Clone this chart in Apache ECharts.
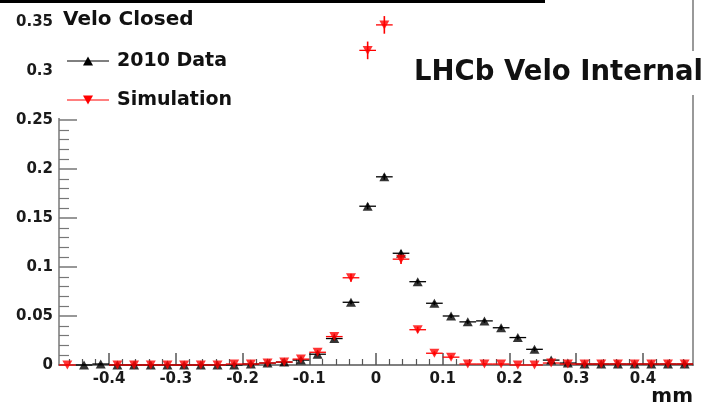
<!DOCTYPE html>
<html>
<head>
<meta charset="utf-8">
<script src="https://cdn.jsdelivr.net/npm/echarts@6/dist/echarts.min.js"></script>
<style>
html,body{margin:0;padding:0;background:#fff;}
#c{width:710px;height:404px;}
</style>
</head>
<body>
<div id="c"></div>
<script>
// ---- data ----
const binCenters = [-0.4625, -0.4375, -0.4125, -0.3875, -0.3625, -0.3375, -0.3125, -0.2875, -0.2625, -0.2375,
  -0.2125, -0.1875, -0.1625, -0.1375, -0.1125, -0.0875, -0.0625, -0.0375, -0.0125, 0.0125,
  0.0375, 0.0625, 0.0875, 0.1125, 0.1375, 0.1625, 0.1875, 0.2125, 0.2375, 0.2625,
  0.2875, 0.3125, 0.3375, 0.3625, 0.3875, 0.4125, 0.4375, 0.4625];
const binHalfWidth = 0.0125;
const data2010 = [null, 0, 0.001, 0, 0, 0, 0, 0, 0, 0,
  0, 0.001, 0.002, 0.003, 0.005, 0.011, 0.027, 0.064, 0.162, 0.192,
  0.114, 0.085, 0.063, 0.050, 0.044, 0.045, 0.038, 0.028, 0.016, 0.005,
  0.002, 0.001, 0.001, 0.001, 0.001, 0.001, 0.001, 0.001];
const err2010 = [0, 0.001, 0.001, 0.001, 0.001, 0.001, 0.001, 0.001, 0.001, 0.001,
  0.001, 0.001, 0.001, 0.001, 0.001, 0.002, 0.002, 0.002, 0.003, 0.003,
  0.003, 0.002, 0.002, 0.002, 0.002, 0.002, 0.002, 0.002, 0.002, 0.001,
  0.001, 0.001, 0.001, 0.001, 0.001, 0.001, 0.001, 0.001];
const dataSim = [0, null, null, 0, 0, 0, 0, 0, 0, 0,
  0.001, 0.001, 0.002, 0.003, 0.006, 0.013, 0.029, 0.089, 0.321, 0.347,
  0.108, 0.036, 0.012, 0.008, 0.001, 0.001, 0.001, 0, 0, 0.002,
  0.001, 0.001, 0.001, 0.001, 0.001, 0.001, 0.001, 0.001];
const errSim = [0.001, 0, 0, 0.001, 0.001, 0.001, 0.001, 0.001, 0.001, 0.001,
  0.001, 0.001, 0.001, 0.001, 0.002, 0.002, 0.003, 0.004, 0.009, 0.009,
  0.005, 0.003, 0.002, 0.002, 0.001, 0.001, 0.001, 0.001, 0.001, 0.001,
  0.001, 0.001, 0.001, 0.001, 0.001, 0.001, 0.001, 0.001];
const xMajorTicks = [-0.4, -0.3, -0.2, -0.1, 0, 0.1, 0.2, 0.3, 0.4];
const xMinorTicks = [-0.46, -0.44, -0.42, -0.38, -0.36, -0.34, -0.32, -0.28, -0.26, -0.24, -0.22,
  -0.18, -0.16, -0.14, -0.12, -0.08, -0.06, -0.04, -0.02, 0.02, 0.04, 0.06, 0.08,
  0.12, 0.14, 0.16, 0.18, 0.22, 0.24, 0.26, 0.28, 0.32, 0.34, 0.36, 0.38, 0.42, 0.44, 0.46];
const xRange = [-0.475, 0.475];
const yRange = [0, 0.3724];
const seriesNames = ['2010 Data', 'Simulation'];
const titleText = 'Velo Closed';
const stampText = 'LHCb Velo Internal';
const xUnit = 'mm';

// ---- chart ----
function pts(vals, errs) {
  const out = [];
  vals.forEach((v, i) => { if (v !== null) out.push([binCenters[i], v, errs[i]]); });
  return out;
}
function errSeries(vals, errs, color) {
  return {
    type: 'custom', xAxisIndex: 0, yAxisIndex: 0, z: 3, clip: false,
    data: pts(vals, errs), encode: {x: 0, y: 1},
    renderItem: function (params, api) {
      const x = api.value(0), y = api.value(1), e = api.value(2);
      const l = api.coord([x - binHalfWidth, y]);
      const r = api.coord([x + binHalfWidth, y]);
      const t = api.coord([x, y + e]);
      const b = api.coord([x, Math.max(0, y - e)]);
      return {type: 'group', children: [
        {type: 'line', shape: {x1: l[0], y1: l[1], x2: r[0], y2: r[1]}, style: {stroke: color, lineWidth: 1.3}},
        {type: 'line', shape: {x1: t[0], y1: t[1], x2: b[0], y2: b[1]}, style: {stroke: color, lineWidth: 1.6}}
      ]};
    }
  };
}
const chart = echarts.init(document.getElementById('c'), null, {renderer: 'canvas'});
const axisLabelStyle = {fontFamily: 'DejaVu Sans', fontWeight: 'bold', fontSize: 15, color: '#1a1a1a'};
chart.setOption({
  animation: false,
  backgroundColor: '#fff',
  grid: {left: 59, right: 17, top: 0, bottom: 39, containLabel: false},
  xAxis: [{
    type: 'value', min: xRange[0], max: xRange[1], position: 'bottom', z: 0,
    axisLine: {onZero: false, lineStyle: {color: '#555', width: 1.5}},
    axisTick: {inside: true, length: 12, customValues: xMajorTicks, lineStyle: {color: '#555', width: 1.5}},
    axisLabel: Object.assign({customValues: xMajorTicks, margin: 7}, axisLabelStyle),
    splitLine: {show: false}
  }, {
    type: 'value', min: xRange[0], max: xRange[1], position: 'bottom', z: 0,
    axisLine: {show: false, onZero: false},
    axisTick: {inside: true, length: 6, customValues: xMinorTicks, lineStyle: {color: '#555', width: 1.2}},
    axisLabel: {show: false},
    splitLine: {show: false}
  }],
  yAxis: [{
    type: 'value', min: yRange[0], max: yRange[1], interval: 0.05, position: 'left', z: 0,
    axisLine: {onZero: false, lineStyle: {color: '#777', width: 1.5}},
    axisTick: {inside: true, length: 18, lineStyle: {color: '#777', width: 1.5}},
    minorTick: {show: true, splitNumber: 5, length: 10, lineStyle: {color: '#777', width: 1.2}},
    axisLabel: Object.assign({margin: 6, showMaxLabel: false}, axisLabelStyle),
    splitLine: {show: false}
  }, {
    type: 'value', min: yRange[0], max: yRange[1], position: 'right', z: 0,
    axisLine: {show: true, onZero: false, lineStyle: {color: '#999', width: 2}},
    axisTick: {show: false}, axisLabel: {show: false}, splitLine: {show: false}
  }],
  series: [
    errSeries(data2010, err2010, '#000'),
    errSeries(dataSim, errSim, '#ff0000'),
    {
      name: seriesNames[0], type: 'scatter', z: 4, clip: false,
      symbol: 'triangle', symbolSize: [10, 9],
      itemStyle: {color: '#000'},
      data: pts(data2010, err2010)
    },
    {
      name: seriesNames[1], type: 'scatter', z: 5, clip: false,
      symbol: 'triangle', symbolRotate: 180, symbolSize: [10, 9],
      itemStyle: {color: '#ff0000'},
      data: pts(dataSim, errSim)
    }
  ],
  graphic: [
    {type: 'rect', z: 1, shape: {x: 57.5, y: 3, width: 488, height: 115}, style: {fill: '#fff'}},
    {type: 'rect', z: 10, shape: {x: 0, y: 0, width: 545, height: 3}, style: {fill: '#000'}},
    {type: 'text', z: 10, x: 63, y: 20,
      style: {text: titleText, font: 'bold 20px "DejaVu Sans"', fill: '#111', verticalAlign: 'middle'}},
    {type: 'line', z: 10, shape: {x1: 67, y1: 61, x2: 109, y2: 61}, style: {stroke: '#000', lineWidth: 1}},
    {type: 'polygon', z: 10, shape: {points: [[83, 65.5], [93, 65.5], [88, 56.5]]}, style: {fill: '#000'}},
    {type: 'text', z: 10, x: 117, y: 61,
      style: {text: seriesNames[0], font: 'bold 19px "DejaVu Sans"', fill: '#111', verticalAlign: 'middle'}},
    {type: 'line', z: 10, shape: {x1: 67, y1: 100, x2: 109, y2: 100}, style: {stroke: '#ff0000', lineWidth: 1}},
    {type: 'polygon', z: 10, shape: {points: [[83, 95.5], [93, 95.5], [88, 104.5]]}, style: {fill: '#ff0000'}},
    {type: 'text', z: 10, x: 117, y: 100,
      style: {text: seriesNames[1], font: 'bold 19px "DejaVu Sans"', fill: '#111', verticalAlign: 'middle'}},
    {type: 'text', z: 10, x: 414, y: 73,
      style: {text: stampText, font: 'bold 27.5px "DejaVu Sans"', fill: '#111', verticalAlign: 'middle',
        backgroundColor: '#fff', padding: [8, 0, 8, 0]}},
    {type: 'text', z: 10, x: 693, y: 397,
      style: {text: xUnit, font: 'bold 20px "DejaVu Sans"', fill: '#111', align: 'right', verticalAlign: 'middle'}}
  ]
});
</script>
</body>
</html>
